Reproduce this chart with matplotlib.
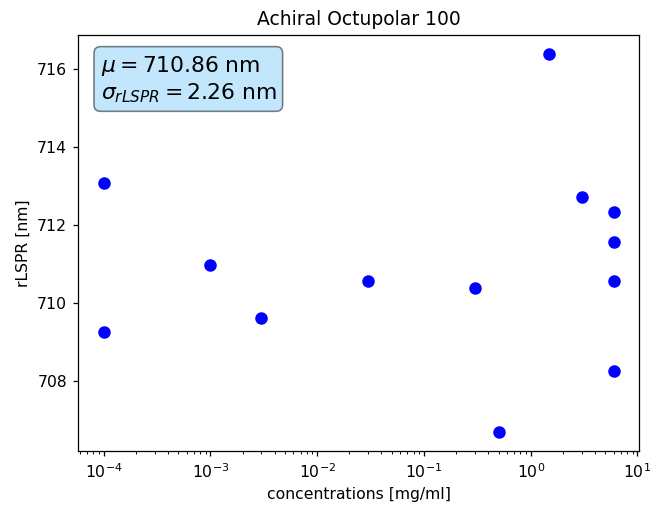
import matplotlib
matplotlib.use("Agg")
from matplotlib import pyplot as plt
import numpy as np

# concentrations and measured peak positions
conc = [1e-4, 1e-4, 1e-3, 3e-3, 3e-2, 3e-1, 5e-1, 1.5, 3, 6, 6, 6, 6]
rlspr = [713.08, 709.26, 710.97, 709.61, 710.58, 710.40, 706.69,
         716.40, 712.72, 712.34, 711.57, 710.57, 708.25]

mean_txt = 710.86
std_txt = 2.26

# original looks rendered a bit larger, so bump dpi and shrink inches
dpi = 112.5
fig = plt.figure(figsize=(651 / dpi, 505 / dpi), dpi=dpi)
ax = fig.add_axes([0.12, 0.107, 0.862, 0.824])

ax.plot(conc, rlspr, 'bo', markersize=7)
ax.set_xscale('log')

ax.set_title('Achiral Octupolar 100')
ax.set_xlabel('concentrations [mg/ml]')
ax.set_ylabel('rLSPR [nm]')

textstr = '\n'.join((r'$\mu=%.2f$ nm' % mean_txt,
                     r'$\sigma_{rLSPR}=%.2f$ nm' % std_txt))
ax.text(0.04, 0.955, textstr, transform=ax.transAxes, fontsize=14,
        verticalalignment='top',
        bbox=dict(boxstyle='round', facecolor='lightskyblue', alpha=0.5))

fig.savefig('out.png', dpi=dpi)
